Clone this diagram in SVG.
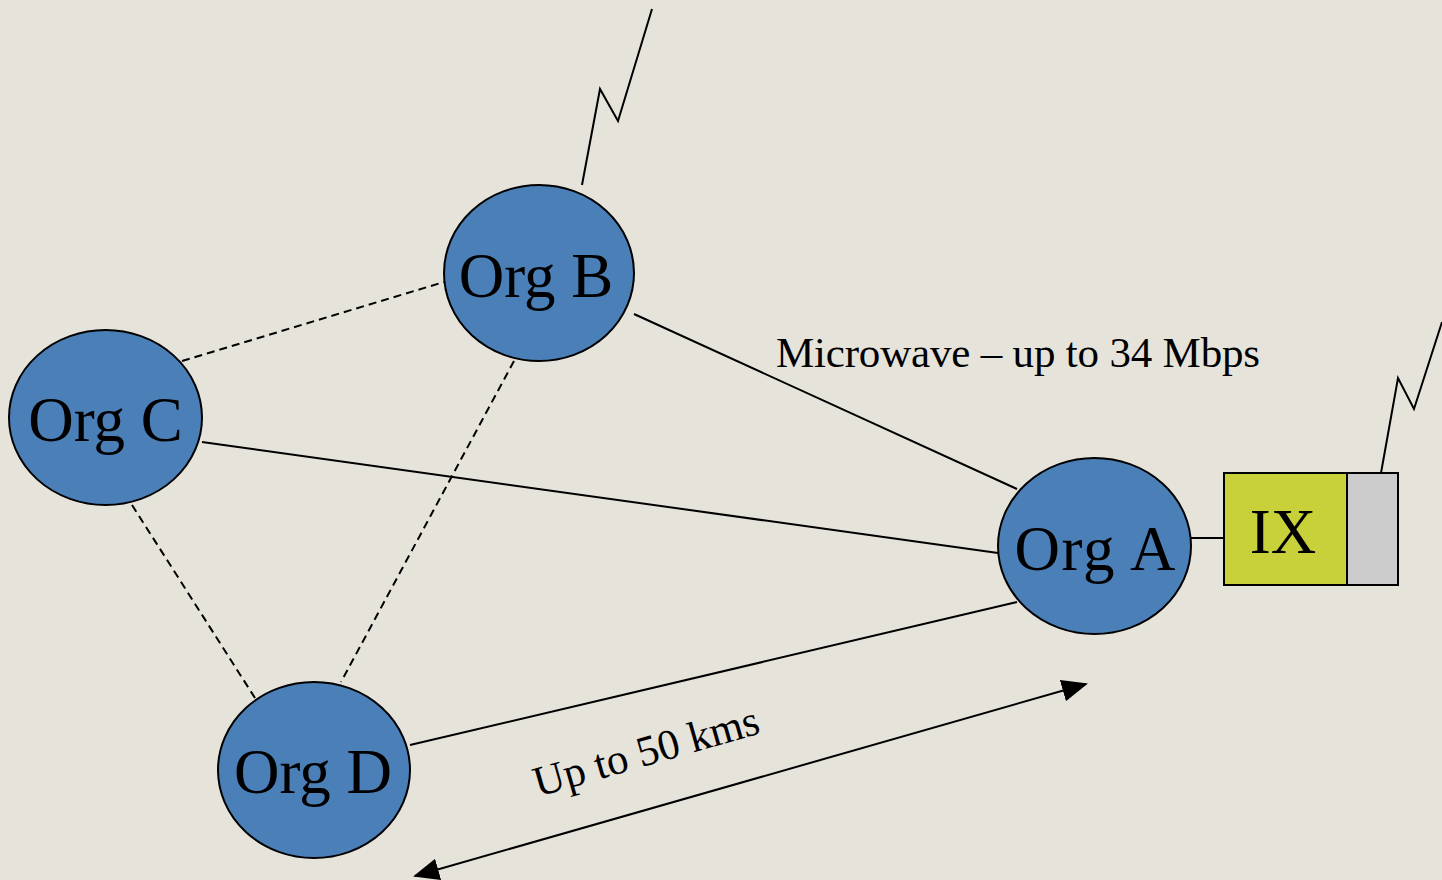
<svg xmlns="http://www.w3.org/2000/svg" width="1442" height="880" viewBox="0 0 1442 880">
<style>
.node{fill:#4A7FB8;stroke:#000;stroke-width:2}
.lbl{font-family:"Liberation Serif","Times New Roman",serif;fill:#000}
.big{font-size:63px;text-anchor:middle}
.small{font-size:43px}
.solid{stroke:#000;stroke-width:2;fill:none}
.dash{stroke:#000;stroke-width:2;fill:none;stroke-dasharray:8 5}
</style>
<defs>
<marker id="ah" viewBox="0 0 26 22" refX="24" refY="11" markerWidth="26" markerHeight="22" markerUnits="userSpaceOnUse" orient="auto-start-reverse">
<path d="M0,0 L26,11 L0,22 Z" fill="#000"/>
</marker>
</defs>
<rect x="0" y="0" width="1442" height="880" fill="#E6E3DB"/>
<g id="connectors">
<line class="solid" x1="634" y1="314" x2="1017" y2="489"/>
<line class="solid" x1="202" y1="442" x2="998" y2="553"/>
<line class="solid" x1="410" y1="745" x2="1017" y2="602"/>
<line class="solid" x1="1191" y1="538" x2="1224" y2="538"/>
<line class="dash" x1="182" y1="361" x2="444" y2="282"/>
<line class="dash" x1="514" y1="361" x2="341" y2="682"/>
<line class="dash" x1="132" y1="505" x2="255" y2="698"/>
<polyline class="solid" points="582,185 600,89 618,121 652,9"/>
<polyline class="solid" points="1381,473 1398,378 1414,409 1442,322"/>
<line class="solid" x1="415" y1="876" x2="1086" y2="684" marker-start="url(#ah)" marker-end="url(#ah)"/>
</g>
<g id="orgB">
<ellipse class="node" cx="539" cy="273" rx="95" ry="88"/>
<text class="lbl big" x="536" y="297">Org B</text>
</g>
<g id="orgC">
<ellipse class="node" cx="105.5" cy="417.5" rx="96.5" ry="87.5"/>
<text class="lbl big" x="105.5" y="441">Org C</text>
</g>
<g id="orgA">
<ellipse class="node" cx="1094.5" cy="546" rx="96.5" ry="88"/>
<text class="lbl big" x="1095" y="570" textLength="161">Org A</text>
</g>
<g id="orgD">
<ellipse class="node" cx="314" cy="770" rx="96" ry="88"/>
<text class="lbl big" x="313" y="793">Org D</text>
</g>
<g id="ix">
<rect x="1224" y="473" width="123" height="112" fill="#C8D13A" stroke="#000" stroke-width="2"/>
<rect x="1347" y="473" width="51" height="112" fill="#CCCCCC" stroke="#000" stroke-width="2"/>
<text class="lbl big" x="1283" y="553">IX</text>
</g>
<text class="lbl small" x="776" y="367" textLength="484">Microwave – up to 34 Mbps</text>
<text class="lbl small" x="538" y="797" transform="rotate(-16 538 797)">Up to 50 kms</text>
</svg>
